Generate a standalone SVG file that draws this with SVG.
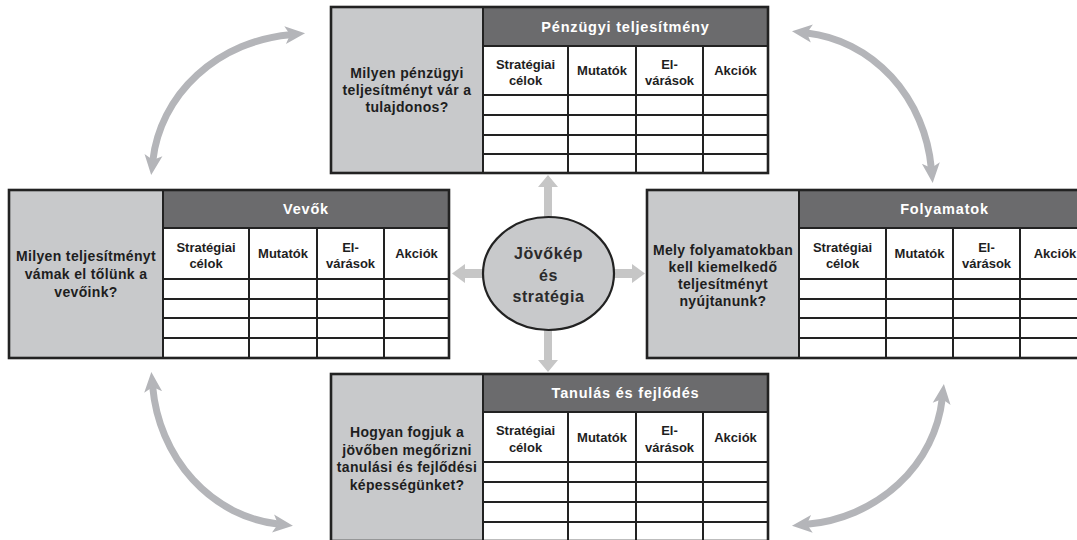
<svg xmlns="http://www.w3.org/2000/svg" width="1077" height="540" viewBox="0 0 1077 540">
<style>
.panel{fill:#c8c9cb}
.hdr{fill:#6b6b6d}
.cells{fill:#ffffff}
.grid{fill:none;stroke:#222222;stroke-width:2}
.frame{fill:none;stroke:#222222;stroke-width:2.6}
.q{font-family:"Liberation Sans",Arial,sans-serif;font-weight:bold;font-size:14px;letter-spacing:0.35px;fill:#1e1e1e;text-anchor:middle}
.h{font-family:"Liberation Sans",Arial,sans-serif;font-weight:bold;font-size:14.5px;letter-spacing:0.8px;fill:#ffffff;text-anchor:middle}
.c{font-family:"Liberation Sans",Arial,sans-serif;font-weight:bold;font-size:13px;fill:#1e1e1e;text-anchor:middle}
.curve{fill:none;stroke:#b4b5b9;stroke-width:7}
.straight{fill:#c6c6c6}
.ctr{font-family:"Liberation Sans",Arial,sans-serif;font-weight:bold;font-size:16px;letter-spacing:0.6px;fill:#2b2b2b;text-anchor:middle}
</style>
<defs>
<marker id="ah" markerUnits="userSpaceOnUse" viewBox="0 0 20 20" markerWidth="20" markerHeight="20" refX="5" refY="10" orient="auto-start-reverse">
<path d="M0,1 L20,10 L0,19 L5,10 z" fill="#b4b5b9"/>
</marker>
</defs>
<rect width="1077" height="540" fill="#ffffff"/>

<g id="connectors">
<path class="curve" d="M152.9 160.1 A153 141 0 0 1 290.1 34.7" marker-start="url(#ah)" marker-end="url(#ah)"/>
<path class="curve" d="M806.9 32.9 A140 151 0 0 1 931.3 168" marker-start="url(#ah)" marker-end="url(#ah)"/>
<path class="curve" d="M152.7 387 A141 153 0 0 0 278 524.1" marker-start="url(#ah)" marker-end="url(#ah)"/>
<path class="curve" d="M942.2 398.9 A151 141 0 0 1 806.9 524.3" marker-start="url(#ah)" marker-end="url(#ah)"/>
<polygon class="straight" points="544,222 544,187 538,187 548,175 558,187 552,187 552,222"/>
<polygon class="straight" points="488,269 465,269 465,264 452,273.5 465,283 465,278 488,278"/>
<polygon class="straight" points="609,269 632,269 632,264 645,273.5 632,283 632,278 609,278"/>
<polygon class="straight" points="544,325 544,360 538,360 548,372 558,360 552,360 552,325"/>
</g>

<g id="center">
<ellipse cx="548.5" cy="273.5" rx="65.5" ry="56.5" fill="#c8c9cb" stroke="#222222" stroke-width="2.2"/>
<text class="ctr" x="548.5" y="259">Jövőkép</text>
<text class="ctr" x="548.5" y="281">és</text>
<text class="ctr" x="548.5" y="302">stratégia</text>
</g>

<g id="penzugyi">
<rect class="panel" x="331" y="7" width="152" height="166"/>
<rect class="hdr" x="483" y="7" width="285" height="39"/>
<rect class="cells" x="483" y="46" width="285" height="127"/>
<path class="grid" d="M483 7V173 M483 46H768 M483 95H768 M483 115H768 M483 135H768 M483 154H768 M568 46V173 M636 46V173 M703 46V173"/>
<rect class="frame" x="331" y="7" width="437" height="166"/>
<text class="h" x="625.5" y="31.5">Pénzügyi teljesítmény</text>
<text class="q" x="407" y="78">Milyen pénzügyi</text>
<text class="q" x="407" y="95">teljesítményt vár a</text>
<text class="q" x="407" y="112">tulajdonos?</text>
<text class="c" x="525.5" y="68.5">Stratégiai</text>
<text class="c" x="525.5" y="85">célok</text>
<text class="c" x="602" y="75">Mutatók</text>
<text class="c" x="669.5" y="68.5">El-</text>
<text class="c" x="669.5" y="85">várások</text>
<text class="c" x="735.5" y="75">Akciók</text>
</g>

<g id="vevok">
<rect class="panel" x="9" y="190" width="154" height="168"/>
<rect class="hdr" x="163" y="190" width="286" height="38"/>
<rect class="cells" x="163" y="228" width="286" height="130"/>
<path class="grid" d="M163 190V358 M163 228H449 M163 279H449 M163 299H449 M163 318H449 M163 338H449 M249 228V358 M317 228V358 M384 228V358"/>
<rect class="frame" x="9" y="190" width="440" height="168"/>
<text class="h" x="306" y="214">Vevők</text>
<text class="q" x="86" y="261">Milyen teljesítményt</text>
<text class="q" x="86" y="279">vámak el tőlünk a</text>
<text class="q" x="86" y="297">vevőink?</text>
<text class="c" x="206" y="251.5">Stratégiai</text>
<text class="c" x="206" y="268">célok</text>
<text class="c" x="283" y="258">Mutatók</text>
<text class="c" x="350.5" y="251.5">El-</text>
<text class="c" x="350.5" y="268">várások</text>
<text class="c" x="416.5" y="258">Akciók</text>
</g>

<g id="folyamatok">
<rect class="panel" x="647" y="190" width="152" height="168"/>
<rect class="hdr" x="799" y="190" width="291" height="38"/>
<rect class="cells" x="799" y="228" width="291" height="130"/>
<path class="grid" d="M799 190V358 M799 228H1090 M799 279H1090 M799 299H1090 M799 318H1090 M799 338H1090 M886 228V358 M953 228V358 M1020 228V358"/>
<rect class="frame" x="647" y="190" width="443" height="168"/>
<text class="h" x="944.5" y="214">Folyamatok</text>
<text class="q" x="723" y="255">Mely folyamatokban</text>
<text class="q" x="723" y="272">kell kiemelkedő</text>
<text class="q" x="723" y="289">teljesítményt</text>
<text class="q" x="723" y="306">nyújtanunk?</text>
<text class="c" x="842.5" y="251.5">Stratégiai</text>
<text class="c" x="842.5" y="268">célok</text>
<text class="c" x="919.5" y="258">Mutatók</text>
<text class="c" x="986.5" y="251.5">El-</text>
<text class="c" x="986.5" y="268">várások</text>
<text class="c" x="1055" y="258">Akciók</text>
</g>

<g id="tanulas">
<rect class="panel" x="331" y="374" width="152" height="167"/>
<rect class="hdr" x="483" y="374" width="285" height="38"/>
<rect class="cells" x="483" y="412" width="285" height="129"/>
<path class="grid" d="M483 374V541 M483 412H768 M483 462H768 M483 482H768 M483 502H768 M483 522H768 M568 412V541 M636 412V541 M703 412V541"/>
<rect class="frame" x="331" y="374" width="437" height="167"/>
<text class="h" x="625.5" y="398">Tanulás és fejlődés</text>
<text class="q" x="407" y="437">Hogyan fogjuk a</text>
<text class="q" x="407" y="454.5">jövőben megőrizni</text>
<text class="q" x="407" y="472">tanulási és fejlődési</text>
<text class="q" x="407" y="489.5">képességünket?</text>
<text class="c" x="525.5" y="435">Stratégiai</text>
<text class="c" x="525.5" y="451.5">célok</text>
<text class="c" x="602" y="441.5">Mutatók</text>
<text class="c" x="669.5" y="435">El-</text>
<text class="c" x="669.5" y="451.5">várások</text>
<text class="c" x="735.5" y="441.5">Akciók</text>
</g>
</svg>
